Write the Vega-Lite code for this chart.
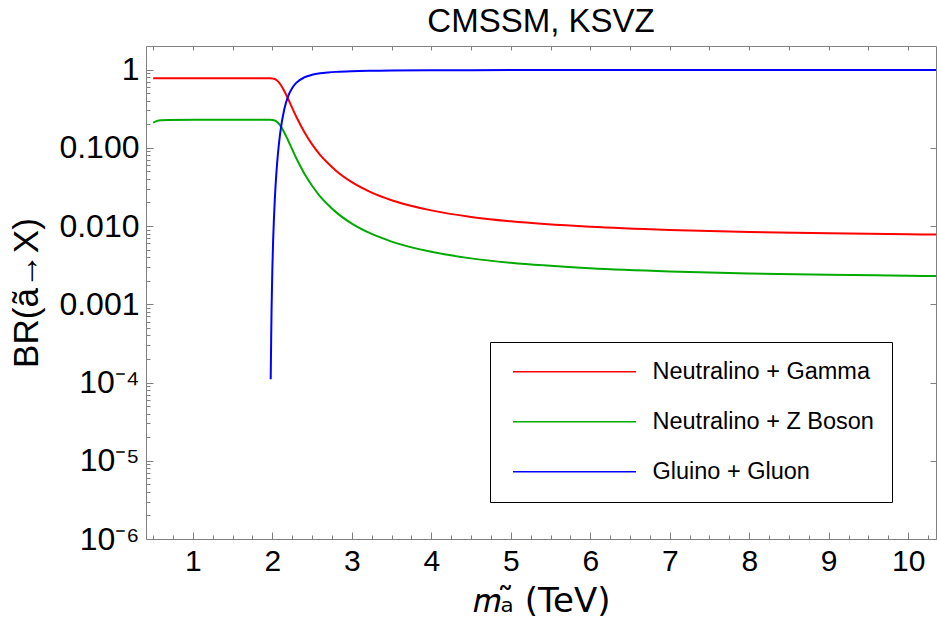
{
  "$schema": "https://vega.github.io/schema/vega-lite/v6.json",
  "width": 790,
  "height": 493,
  "autosize": {"type": "none"},
  "padding": {"left": 146, "top": 46, "right": 1, "bottom": 98},
  "background": "white",
  "config": {
    "font": "Liberation Sans",
    "view": {"stroke": "#808080", "strokeWidth": 1},
    "axis": {"domain": false, "grid": false, "tickColor": "#808080", "tickWidth": 1, "labelColor": "black", "titleColor": "black", "labelFont": "Liberation Sans", "titleFont": "Liberation Sans", "titleFontWeight": "normal"}
  },
  "title": {"text": "CMSSM, KSVZ", "fontSize": 33, "fontWeight": "normal", "color": "black", "anchor": "middle", "offset": 7, "font": "Liberation Sans"},
  "datasets": {
    "br": [
      {"m": 0.5, "br": 0.776, "ch": "Neutralino + Gamma"},
      {"m": 0.7, "br": 0.773, "ch": "Neutralino + Gamma"},
      {"m": 1.0, "br": 0.772, "ch": "Neutralino + Gamma"},
      {"m": 1.5, "br": 0.772, "ch": "Neutralino + Gamma"},
      {"m": 1.9, "br": 0.772, "ch": "Neutralino + Gamma"},
      {"m": 1.97, "br": 0.772, "ch": "Neutralino + Gamma"},
      {"m": 2.0, "br": 0.770, "ch": "Neutralino + Gamma"},
      {"m": 2.02, "br": 0.762, "ch": "Neutralino + Gamma"},
      {"m": 2.04, "br": 0.747, "ch": "Neutralino + Gamma"},
      {"m": 2.05, "br": 0.736, "ch": "Neutralino + Gamma"},
      {"m": 2.07, "br": 0.707, "ch": "Neutralino + Gamma"},
      {"m": 2.1, "br": 0.649, "ch": "Neutralino + Gamma"},
      {"m": 2.15, "br": 0.532, "ch": "Neutralino + Gamma"},
      {"m": 2.2, "br": 0.417, "ch": "Neutralino + Gamma"},
      {"m": 2.25, "br": 0.323, "ch": "Neutralino + Gamma"},
      {"m": 2.3, "br": 0.251, "ch": "Neutralino + Gamma"},
      {"m": 2.4, "br": 0.1605, "ch": "Neutralino + Gamma"},
      {"m": 2.5, "br": 0.1106, "ch": "Neutralino + Gamma"},
      {"m": 2.6, "br": 0.0813, "ch": "Neutralino + Gamma"},
      {"m": 2.7, "br": 0.0633, "ch": "Neutralino + Gamma"},
      {"m": 2.8, "br": 0.051, "ch": "Neutralino + Gamma"},
      {"m": 3.0, "br": 0.0364, "ch": "Neutralino + Gamma"},
      {"m": 3.25, "br": 0.0268, "ch": "Neutralino + Gamma"},
      {"m": 3.5, "br": 0.0214, "ch": "Neutralino + Gamma"},
      {"m": 4.0, "br": 0.01585, "ch": "Neutralino + Gamma"},
      {"m": 4.5, "br": 0.01308, "ch": "Neutralino + Gamma"},
      {"m": 5.0, "br": 0.01149, "ch": "Neutralino + Gamma"},
      {"m": 6.0, "br": 0.00977, "ch": "Neutralino + Gamma"},
      {"m": 7.0, "br": 0.0089, "ch": "Neutralino + Gamma"},
      {"m": 8.0, "br": 0.00839, "ch": "Neutralino + Gamma"},
      {"m": 9.0, "br": 0.00806, "ch": "Neutralino + Gamma"},
      {"m": 10.0, "br": 0.00784, "ch": "Neutralino + Gamma"},
      {"m": 10.35, "br": 0.00778, "ch": "Neutralino + Gamma"},
      {"m": 0.5, "br": 0.21, "ch": "Neutralino + Z Boson"},
      {"m": 0.55, "br": 0.221, "ch": "Neutralino + Z Boson"},
      {"m": 0.6, "br": 0.225, "ch": "Neutralino + Z Boson"},
      {"m": 0.7, "br": 0.227, "ch": "Neutralino + Z Boson"},
      {"m": 1.0, "br": 0.228, "ch": "Neutralino + Z Boson"},
      {"m": 1.5, "br": 0.228, "ch": "Neutralino + Z Boson"},
      {"m": 1.9, "br": 0.228, "ch": "Neutralino + Z Boson"},
      {"m": 1.97, "br": 0.228, "ch": "Neutralino + Z Boson"},
      {"m": 2.0, "br": 0.2273, "ch": "Neutralino + Z Boson"},
      {"m": 2.02, "br": 0.2251, "ch": "Neutralino + Z Boson"},
      {"m": 2.04, "br": 0.2206, "ch": "Neutralino + Z Boson"},
      {"m": 2.05, "br": 0.2173, "ch": "Neutralino + Z Boson"},
      {"m": 2.07, "br": 0.2088, "ch": "Neutralino + Z Boson"},
      {"m": 2.1, "br": 0.1918, "ch": "Neutralino + Z Boson"},
      {"m": 2.15, "br": 0.1571, "ch": "Neutralino + Z Boson"},
      {"m": 2.2, "br": 0.123, "ch": "Neutralino + Z Boson"},
      {"m": 2.25, "br": 0.0954, "ch": "Neutralino + Z Boson"},
      {"m": 2.3, "br": 0.0741, "ch": "Neutralino + Z Boson"},
      {"m": 2.4, "br": 0.0474, "ch": "Neutralino + Z Boson"},
      {"m": 2.5, "br": 0.0327, "ch": "Neutralino + Z Boson"},
      {"m": 2.6, "br": 0.024, "ch": "Neutralino + Z Boson"},
      {"m": 2.7, "br": 0.0187, "ch": "Neutralino + Z Boson"},
      {"m": 2.8, "br": 0.01506, "ch": "Neutralino + Z Boson"},
      {"m": 3.0, "br": 0.01075, "ch": "Neutralino + Z Boson"},
      {"m": 3.25, "br": 0.00792, "ch": "Neutralino + Z Boson"},
      {"m": 3.5, "br": 0.00633, "ch": "Neutralino + Z Boson"},
      {"m": 4.0, "br": 0.00468, "ch": "Neutralino + Z Boson"},
      {"m": 4.5, "br": 0.00386, "ch": "Neutralino + Z Boson"},
      {"m": 5.0, "br": 0.00339, "ch": "Neutralino + Z Boson"},
      {"m": 6.0, "br": 0.00289, "ch": "Neutralino + Z Boson"},
      {"m": 7.0, "br": 0.00263, "ch": "Neutralino + Z Boson"},
      {"m": 8.0, "br": 0.00248, "ch": "Neutralino + Z Boson"},
      {"m": 9.0, "br": 0.00238, "ch": "Neutralino + Z Boson"},
      {"m": 10.0, "br": 0.00232, "ch": "Neutralino + Z Boson"},
      {"m": 10.35, "br": 0.00229, "ch": "Neutralino + Z Boson"},
      {"m": 1.979, "br": 0.00011, "ch": "Gluino + Gluon"},
      {"m": 1.985, "br": 0.00037, "ch": "Gluino + Gluon"},
      {"m": 1.99, "br": 0.00088, "ch": "Gluino + Gluon"},
      {"m": 2.0, "br": 0.0029, "ch": "Gluino + Gluon"},
      {"m": 2.01, "br": 0.0067, "ch": "Gluino + Gluon"},
      {"m": 2.02, "br": 0.0127, "ch": "Gluino + Gluon"},
      {"m": 2.03, "br": 0.0212, "ch": "Gluino + Gluon"},
      {"m": 2.04, "br": 0.0326, "ch": "Gluino + Gluon"},
      {"m": 2.05, "br": 0.0468, "ch": "Gluino + Gluon"},
      {"m": 2.07, "br": 0.084, "ch": "Gluino + Gluon"},
      {"m": 2.1, "br": 0.159, "ch": "Gluino + Gluon"},
      {"m": 2.15, "br": 0.311, "ch": "Gluino + Gluon"},
      {"m": 2.2, "br": 0.46, "ch": "Gluino + Gluon"},
      {"m": 2.25, "br": 0.582, "ch": "Gluino + Gluon"},
      {"m": 2.3, "br": 0.675, "ch": "Gluino + Gluon"},
      {"m": 2.4, "br": 0.792, "ch": "Gluino + Gluon"},
      {"m": 2.5, "br": 0.857, "ch": "Gluino + Gluon"},
      {"m": 2.6, "br": 0.895, "ch": "Gluino + Gluon"},
      {"m": 2.7, "br": 0.918, "ch": "Gluino + Gluon"},
      {"m": 2.8, "br": 0.934, "ch": "Gluino + Gluon"},
      {"m": 3.0, "br": 0.953, "ch": "Gluino + Gluon"},
      {"m": 3.25, "br": 0.965, "ch": "Gluino + Gluon"},
      {"m": 3.5, "br": 0.972, "ch": "Gluino + Gluon"},
      {"m": 4.0, "br": 0.9795, "ch": "Gluino + Gluon"},
      {"m": 4.5, "br": 0.983, "ch": "Gluino + Gluon"},
      {"m": 5.0, "br": 0.985, "ch": "Gluino + Gluon"},
      {"m": 6.0, "br": 0.987, "ch": "Gluino + Gluon"},
      {"m": 7.0, "br": 0.9885, "ch": "Gluino + Gluon"},
      {"m": 8.0, "br": 0.989, "ch": "Gluino + Gluon"},
      {"m": 9.0, "br": 0.9896, "ch": "Gluino + Gluon"},
      {"m": 10.0, "br": 0.990, "ch": "Gluino + Gluon"},
      {"m": 10.35, "br": 0.990, "ch": "Gluino + Gluon"}
    ]
  },
  "data": {"name": "br"},
  "layer": [
    {
      "mark": {"type": "point", "opacity": 0},
      "encoding": {
        "x": {"field": "m", "type": "quantitative", "scale": {"domain": [0.41, 10.35], "nice": false, "zero": false},
          "axis": {"orient": "bottom", "values": [0.5,0.75,1.25,1.5,1.75,2.25,2.5,2.75,3.25,3.5,3.75,4.25,4.5,4.75,5.25,5.5,5.75,6.25,6.5,6.75,7.25,7.5,7.75,8.25,8.5,8.75,9.25,9.5,9.75,10.25], "tickSize": -4, "labels": false, "title": null}},
        "y": {"field": "br", "type": "quantitative", "scale": {"type": "log", "domain": [0.000001, 2], "nice": false},
          "axis": {"orient": "left", "values": [2e-6,3e-6,4e-6,5e-6,6e-6,7e-6,8e-6,9e-6,2e-5,3e-5,4e-5,5e-5,6e-5,7e-5,8e-5,9e-5,2e-4,3e-4,4e-4,5e-4,6e-4,7e-4,8e-4,9e-4,0.002,0.003,0.004,0.005,0.006,0.007,0.008,0.009,0.02,0.03,0.04,0.05,0.06,0.07,0.08,0.09,0.2,0.3,0.4,0.5,0.6,0.7,0.8,0.9], "tickSize": -4, "labels": false, "title": null}}
      }
    },
    {
      "mark": {"type": "point", "opacity": 0},
      "encoding": {
        "x": {"field": "m", "type": "quantitative",
          "axis": {"orient": "top", "values": [0.5,1,1.5,2,2.5,3,3.5,4,4.5,5,5.5,6,6.5,7,7.5,8,8.5,9,9.5,10], "tickSize": -4, "labels": false, "title": null}},
        "y": {"field": "br", "type": "quantitative",
          "axis": {"orient": "right", "values": [0.000001,0.00001,0.0001,0.001,0.01,0.1,1], "tickSize": -6, "labels": false, "title": null}}
      }
    },
    {
      "mark": {"type": "line", "strokeWidth": 2, "interpolate": "monotone", "clip": true},
      "encoding": {
        "x": {"field": "m", "type": "quantitative",
          "axis": {"orient": "bottom", "values": [1,2,3,4,5,6,7,8,9,10], "tickSize": -7, "labelFontSize": 30, "labelPadding": 14, "title": "𝑚ₐ̃ (TeV)", "titleFont": "DejaVu Sans", "titleFontSize": 34, "titlePadding": 8}},
        "y": {"field": "br", "type": "quantitative",
          "axis": {"orient": "left", "values": [0.000001,0.00001,0.0001,0.001,0.01,0.1,1], "tickSize": -7, "labelFontSize": 32, "labelPadding": 14,
            "labelExpr": "datum.value > 0.5 ? '1' : datum.value > 0.05 ? '0.100' : datum.value > 0.005 ? '0.010' : datum.value > 0.0005 ? '0.001' : datum.value > 0.00005 ? '10⁻⁴' : datum.value > 0.000005 ? '10⁻⁵' : '10⁻⁶'",
            "title": "BR(ã→X)", "titleFontSize": 35, "titlePadding": 14}},
        "color": {"field": "ch", "type": "nominal",
          "scale": {"domain": ["Neutralino + Gamma", "Neutralino + Z Boson", "Gluino + Gluon"], "range": ["#ff0000", "#00aa00", "#0000ff"]},
          "legend": {"orient": "none", "legendX": 344, "legendY": 296, "title": null, "strokeColor": "black", "fillColor": "white", "padding": 18,
            "symbolType": "M-1.35,0L23.25,0", "symbolSize": 100, "symbolStrokeWidth": 1.5, "labelFontSize": 23.5, "labelColor": "black", "labelFont": "Liberation Sans",
            "labelOffset": 121, "rowPadding": 25, "labelLimit": 500}}
      }
    }
  ],
  "resolve": {"axis": {"x": "independent", "y": "independent"}}
}
